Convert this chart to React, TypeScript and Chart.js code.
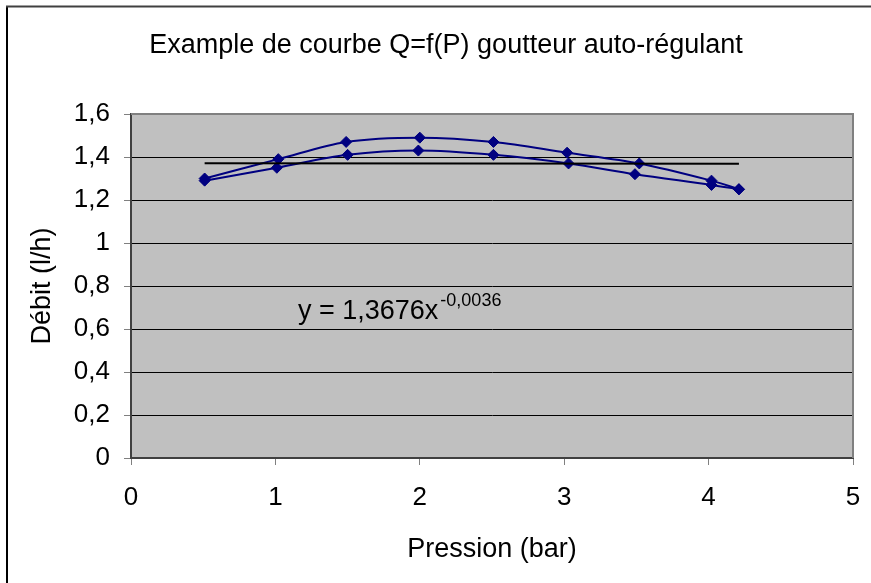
import React, { useEffect, useRef } from "react";
import { Chart, registerables } from "chart.js";

Chart.register(...registerables);

const TITLE = "Example de courbe Q=f(P) goutteur auto-régulant";
const X_TITLE = "Pression (bar)";
const Y_TITLE = "Débit (l/h)";
const EQ_MAIN = "y = 1,3676x";
const EQ_EXP = "-0,0036";

const pressureA = [0.51, 1.02, 1.49, 2.0, 2.51, 3.02, 3.52, 4.02, 4.21];
const flowA = [1.3, 1.39, 1.47, 1.49, 1.47, 1.42, 1.37, 1.29, 1.25];
const pressureB = [0.51, 1.01, 1.5, 1.99, 2.51, 3.03, 3.49, 4.02, 4.21];
const flowB = [1.29, 1.35, 1.41, 1.43, 1.41, 1.37, 1.32, 1.27, 1.25];
const trendPressure = [0.51, 4.21];
const trendFlow = [1.371, 1.369];

const xTicks = [0, 1, 2, 3, 4, 5];
const yTicks = [0, 0.2, 0.4, 0.6, 0.8, 1, 1.2, 1.4, 1.6];

const FONT = "'Liberation Sans', Arial, sans-serif";
const NAVY = "#000080";

const fmt = (v: number) => String(Math.round(v * 10) / 10).replace(".", ",");

const decor = {
  id: "decor",
  beforeDraw(chart: any) {
    const { ctx, chartArea: a, width, height } = chart;
    ctx.save();
    ctx.fillStyle = "#ffffff";
    ctx.fillRect(0, 0, width, height);
    ctx.fillStyle = "#C0C0C0";
    ctx.fillRect(a.left, a.top, a.right - a.left, a.bottom - a.top);
    ctx.restore();
  },
  beforeDatasetsDraw(chart: any) {
    const { ctx, chartArea: a } = chart;
    ctx.save();
    ctx.strokeStyle = "#808080";
    ctx.lineWidth = 2;
    ctx.beginPath();
    ctx.moveTo(a.left, a.top);
    ctx.lineTo(a.right, a.top);
    ctx.lineTo(a.right, a.bottom);
    ctx.stroke();
    ctx.restore();
  },
  afterDraw(chart: any) {
    const { ctx, width, height } = chart;
    ctx.save();
    // outer frame
    ctx.strokeStyle = "#000000";
    ctx.lineWidth = 2;
    ctx.beginPath();
    ctx.moveTo(7, height);
    ctx.lineTo(7, 6);
    ctx.stroke();
    ctx.strokeStyle = "#404040";
    ctx.beginPath();
    ctx.moveTo(6, 6.5);
    ctx.lineTo(width, 6.5);
    ctx.stroke();
    // title
    ctx.fillStyle = "#000000";
    ctx.font = `27px ${FONT}`;
    ctx.textAlign = "center";
    ctx.textBaseline = "middle";
    ctx.fillText(TITLE, 446, 46);
    // equation
    ctx.textAlign = "left";
    ctx.font = `27px ${FONT}`;
    ctx.fillText(EQ_MAIN, 298, 312);
    const w = ctx.measureText(EQ_MAIN).width;
    ctx.font = `18px ${FONT}`;
    ctx.fillText(EQ_EXP, 298 + w + 2, 301);
    ctx.restore();
  },
};

export default function App() {
  const ref = useRef<HTMLCanvasElement | null>(null);
  useEffect(() => {
    if (!ref.current) return;
    const chart = new Chart(ref.current, {
      type: "line",
      data: {
        datasets: [
          {
            label: "Tendance",
            data: trendPressure.map((x, i) => ({ x, y: trendFlow[i] })),
            borderColor: "#000000",
            borderWidth: 2,
            pointRadius: 0,
            tension: 0,
          },
          {
            label: "Série 1",
            data: pressureA.map((x, i) => ({ x, y: flowA[i] })),
            borderColor: NAVY,
            backgroundColor: NAVY,
            borderWidth: 2,
            pointStyle: "rectRot",
            pointRadius: 5.5,
            pointBorderWidth: 1,
            tension: 0.33,
          },
          {
            label: "Série 2",
            data: pressureB.map((x, i) => ({ x, y: flowB[i] })),
            borderColor: NAVY,
            backgroundColor: NAVY,
            borderWidth: 2,
            pointStyle: "rectRot",
            pointRadius: 5.5,
            pointBorderWidth: 1,
            tension: 0.33,
          },
        ],
      },
      options: {
        responsive: false,
        animation: false,
        devicePixelRatio: 1,
        layout: { padding: { left: 0, right: 18, top: 114, bottom: 0 } },
        plugins: {
          legend: { display: false },
          title: { display: false },
          tooltip: { enabled: false },
        },
        scales: {
          x: {
            type: "linear",
            min: 0,
            max: 5,
            afterBuildTicks: (s: any) => {
              s.ticks = xTicks.map((v) => ({ value: v }));
            },
            afterFit: (s: any) => {
              s.height = 125;
              s.paddingLeft = 0;
              s.paddingRight = 0;
            },
            ticks: {
              color: "#000",
              font: { family: FONT, size: 26 },
              padding: 17,
              maxRotation: 0,
              callback: (v: any) => fmt(Number(v)),
            },
            grid: {
              drawOnChartArea: false,
              drawTicks: true,
              tickLength: 7,
              tickColor: "#808080",
              tickWidth: 1,
            },
            border: { color: "#404040", width: 2 },
            title: {
              display: true,
              text: X_TITLE,
              color: "#000",
              font: { family: FONT, size: 27 },
              padding: { top: 0, bottom: 17 },
            },
          },
          y: {
            type: "linear",
            min: 0,
            max: 1.6,
            afterBuildTicks: (s: any) => {
              s.ticks = yTicks.map((v) => ({ value: v }));
            },
            afterFit: (s: any) => {
              s.width = 131;
            },
            ticks: {
              color: "#000",
              font: { family: FONT, size: 26 },
              padding: 14,
              callback: (v: any) => fmt(Number(v)),
            },
            grid: {
              color: "#000000",
              lineWidth: 1,
              drawTicks: true,
              tickLength: 7,
              tickColor: "#808080",
              tickWidth: 1,
            },
            border: { color: "#404040", width: 2 },
            title: {
              display: true,
              text: Y_TITLE,
              color: "#000",
              font: { family: FONT, size: 27 },
              padding: { top: 26, bottom: 0 },
            },
          },
        },
      },
      plugins: [decor],
    });
    return () => chart.destroy();
  }, []);
  return (
    <div style={{ position: "fixed", left: 0, top: 0, width: 871, height: 583 }}>
      <canvas ref={ref} width={871} height={583} />
    </div>
  );
}
